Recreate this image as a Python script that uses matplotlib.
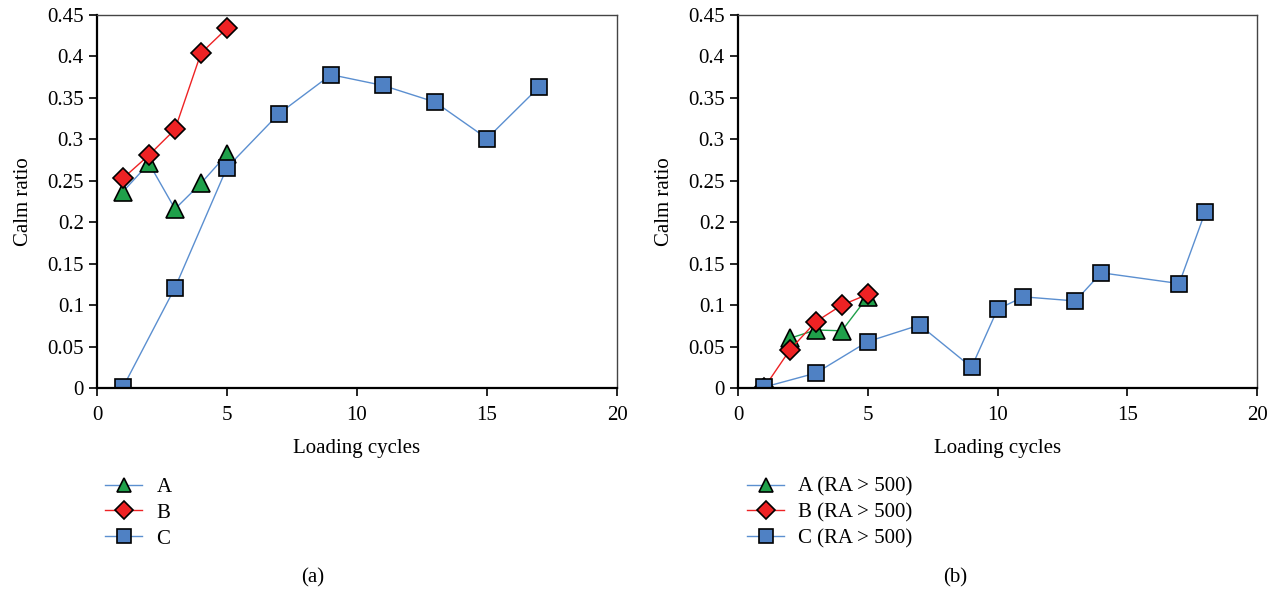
import matplotlib.pyplot as plt

plt.rcParams['font.family'] = ['Liberation Serif', 'DejaVu Serif']

# panel (a)
a_x = [1, 2, 3, 4, 5]
a_y = [0.237, 0.271, 0.216, 0.247, 0.282]
b_x = [1, 2, 3, 4, 5]
b_y = [0.253, 0.281, 0.312, 0.404, 0.434]
c_x = [1, 3, 5, 7, 9, 11, 13, 15, 17]
c_y = [0.001, 0.121, 0.266, 0.331, 0.378, 0.365, 0.345, 0.301, 0.363]

# panel (b), RA > 500
a2_x = [2, 3, 4, 5]
a2_y = [0.060, 0.070, 0.069, 0.110]
b2_x = [1, 2, 3, 4, 5]
b2_y = [0.0, 0.046, 0.080, 0.100, 0.113]
c2_x = [1, 3, 5, 7, 9, 10, 11, 13, 14, 17, 18]
c2_y = [0.001, 0.018, 0.056, 0.076, 0.025, 0.095, 0.110, 0.105, 0.139, 0.126, 0.212]

labels_a = ["A", "B", "C"]
labels_b = ["A (RA > 500)", "B (RA > 500)", "C (RA > 500)"]

blue = "#4f81c4"
green = "#1fa04a"
red = "#ee2224"
line_blue = "#5b8fd0"

fig = plt.figure(figsize=(12.73, 5.95), dpi=100)
ax1 = fig.add_axes([97/1273, 1-388/595, 520/1273, 373/595])
ax2 = fig.add_axes([738/1273, 1-388/595, 519/1273, 373/595])

ms = 11.5
def draw(ax, ax_, ay, ac, bx, by, cx, cy, labels):
    la, = ax.plot(ax_, ay, color=ac, lw=1, marker="^", ms=ms+1, mfc=green, mec="black", mew=1.2, label=labels[0])
    lb, = ax.plot(bx, by, color=red, lw=1, marker="D", ms=ms-1, mfc=red, mec="black", mew=1.2, label=labels[1])
    lc, = ax.plot(cx, cy, color=line_blue, lw=1, marker="s", ms=ms, mfc=blue, mec="black", mew=1.2, label=labels[2])
    ax.set_xlim(0, 20)
    ax.set_ylim(0, 0.45)
    ax.set_xticks([0, 5, 10, 15, 20])
    ax.set_yticks([0, 0.05, 0.1, 0.15, 0.2, 0.25, 0.3, 0.35, 0.4, 0.45])
    ax.set_yticklabels(["0", "0.05", "0.1", "0.15", "0.2", "0.25", "0.3", "0.35", "0.4", "0.45"])
    ax.tick_params(labelsize=15, length=6, width=1.2, direction="out")
    ax.tick_params(axis="x", pad=7)
    ax.set_xlabel("Loading cycles", fontsize=15, labelpad=10)
    ax.set_ylabel("Calm ratio", fontsize=15, labelpad=10)
    for s in ["left", "bottom"]:
        ax.spines[s].set_linewidth(1.6)
    for s in ["top", "right"]:
        ax.spines[s].set_linewidth(1.0)
        ax.spines[s].set_color("#444444")
    return [la, lb, lc]

h1 = draw(ax1, a_x, a_y, line_blue, b_x, b_y, c_x, c_y, labels_a)
h2 = draw(ax2, a2_x, a2_y, green, b2_x, b2_y, c2_x, c2_y, labels_b)
# legend of (b) shows A with a blue line
h2[0] = plt.Line2D([], [], color=line_blue, lw=1, marker="^", ms=ms+1, mfc=green, mec="black", mew=1.2)

leg_kw = dict(frameon=False, fontsize=15, handlelength=1.75, labelspacing=0.3, handletextpad=0.7,
              borderaxespad=0, markerscale=0.85)
fig.legend(h1, labels_a, loc="upper left", bbox_to_anchor=(97/1273, 1-469/595), **leg_kw)
fig.legend(h2, labels_b, loc="upper left", bbox_to_anchor=(739/1273, 1-469/595), **leg_kw)

fig.text(313/1273, 1-578/595, "(a)", fontsize=15, ha="center", va="center")
fig.text(955/1273, 1-578/595, "(b)", fontsize=15, ha="center", va="center")

fig.savefig("out.png", dpi=100)
